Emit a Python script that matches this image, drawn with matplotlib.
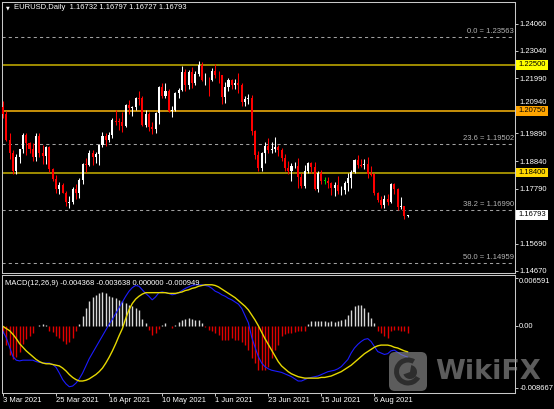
import matplotlib.pyplot as plt
import matplotlib.patches as patches
from matplotlib.transforms import blended_transform_factory, ScaledTranslation
import numpy as np

plt.rcParams['font.family'] = ['Liberation Sans', 'DejaVu Sans']

# EURUSD daily bars, 3 Mar 2021 .. 20 Aug 2021
opens = [1.2090, 1.2064, 1.1966, 1.1915, 1.1847, 1.1900, 1.1929, 1.1985, 1.1952, 1.1930,
         1.1901, 1.1978, 1.1915, 1.1903, 1.1938, 1.1853, 1.1814, 1.1777, 1.1794, 1.1763,
         1.1727, 1.1730, 1.1778, 1.1763, 1.1813, 1.1874, 1.1870, 1.1915, 1.1900, 1.1912,
         1.1946, 1.1979, 1.1966, 1.1983, 1.2039, 1.2036, 1.2034, 1.2016, 1.2096, 1.2085,
         1.2090, 1.2125, 1.2123, 1.2020, 1.2063, 1.2014, 1.2006, 1.2066, 1.2165, 1.2130,
         1.2150, 1.2075, 1.2080, 1.2143, 1.2153, 1.2225, 1.2173, 1.2225, 1.2180, 1.2214,
         1.2249, 1.2193, 1.2195, 1.2193, 1.2227, 1.2213, 1.2212, 1.2127, 1.2165, 1.2191,
         1.2172, 1.2180, 1.2175, 1.2107, 1.2122, 1.2125, 1.1997, 1.1907, 1.1859, 1.1916,
         1.1940, 1.1925, 1.1931, 1.1936, 1.1925, 1.1895, 1.1857, 1.1848, 1.1865, 1.1866,
         1.1823, 1.1790, 1.1845, 1.1875, 1.1862, 1.1776, 1.1837, 1.1810, 1.1810, 1.1802,
         1.1780, 1.1794, 1.1770, 1.1772, 1.1801, 1.1818, 1.1843, 1.1888, 1.1870, 1.1868,
         1.1872, 1.1836, 1.1834, 1.1761, 1.1736, 1.1718, 1.1740, 1.1730, 1.1796, 1.1778,
         1.1711, 1.1712, 1.16732]
highs = [1.2113, 1.2074, 1.1990, 1.1928, 1.1912, 1.1930, 1.1990, 1.1989, 1.1958, 1.1952,
         1.1989, 1.1990, 1.1945, 1.1942, 1.1943, 1.1857, 1.1832, 1.1805, 1.1800, 1.1770,
         1.1750, 1.1784, 1.1796, 1.1820, 1.1878, 1.1895, 1.1928, 1.1925, 1.1918, 1.1948,
         1.1994, 1.1990, 1.1995, 1.2048, 1.2080, 1.2048, 1.2070, 1.2100, 1.2117, 1.2095,
         1.2128, 1.2150, 1.2130, 1.2077, 1.2070, 1.2033, 1.2070, 1.2168, 1.2181, 1.2183,
         1.2160, 1.2095, 1.2146, 1.2161, 1.2245, 1.2235, 1.2229, 1.2244, 1.2227, 1.2266,
         1.2262, 1.2220, 1.2203, 1.2240, 1.2254, 1.2226, 1.2212, 1.2185, 1.2200, 1.2195,
         1.2195, 1.2218, 1.2180, 1.2130, 1.2140, 1.2137, 1.2003, 1.1922, 1.1920, 1.1955,
         1.1970, 1.1957, 1.1975, 1.1945, 1.1932, 1.1912, 1.1885, 1.1876, 1.1881, 1.1895,
         1.1840, 1.1868, 1.1880, 1.1880, 1.1880, 1.1848, 1.1851, 1.1822, 1.1822, 1.1805,
         1.1806, 1.1828, 1.1790, 1.1810, 1.1840, 1.1850, 1.1893, 1.1909, 1.1893, 1.1892,
         1.1900, 1.1865, 1.1840, 1.1765, 1.1750, 1.1753, 1.1757, 1.1802, 1.1801, 1.1783,
         1.1749, 1.1713, 1.16797]
lows = [1.2048, 1.1962, 1.1893, 1.1836, 1.1835, 1.1875, 1.1916, 1.1909, 1.1913, 1.1885,
        1.1883, 1.1900, 1.1874, 1.1874, 1.1842, 1.1808, 1.1762, 1.1760, 1.1761, 1.1712,
        1.1704, 1.1720, 1.1739, 1.1744, 1.1795, 1.1841, 1.1865, 1.1870, 1.1876, 1.1870,
        1.1939, 1.1942, 1.1955, 1.1973, 1.2020, 1.2002, 1.1995, 1.2012, 1.2065, 1.2057,
        1.2080, 1.2096, 1.2016, 1.2012, 1.1999, 1.1986, 1.1990, 1.2026, 1.2123, 1.2125,
        1.2072, 1.2052, 1.2076, 1.2123, 1.2150, 1.2150, 1.2160, 1.2161, 1.2175, 1.2208,
        1.2188, 1.2175, 1.2133, 1.2190, 1.2200, 1.2182, 1.2103, 1.2105, 1.2150, 1.2160,
        1.2159, 1.2144, 1.2093, 1.2093, 1.2101, 1.1985, 1.1893, 1.1847, 1.1848, 1.1875,
        1.1914, 1.1915, 1.1920, 1.1902, 1.1885, 1.1845, 1.1836, 1.1807, 1.1856, 1.1782,
        1.1781, 1.1782, 1.1838, 1.1838, 1.1772, 1.1767, 1.1795, 1.1797, 1.1780, 1.1753,
        1.1752, 1.1758, 1.1755, 1.1760, 1.1770, 1.1780, 1.1840, 1.1857, 1.1862, 1.1855,
        1.1820, 1.1826, 1.1756, 1.1727, 1.1706, 1.1705, 1.1717, 1.1724, 1.1759, 1.1697,
        1.1701, 1.1664, 1.16727]
closes = [1.2064, 1.1966, 1.1915, 1.1847, 1.1900, 1.1929, 1.1985, 1.1952, 1.1930, 1.1901,
          1.1978, 1.1915, 1.1903, 1.1938, 1.1853, 1.1814, 1.1777, 1.1794, 1.1763, 1.1727,
          1.1730, 1.1778, 1.1763, 1.1813, 1.1874, 1.1870, 1.1915, 1.1900, 1.1912, 1.1946,
          1.1979, 1.1966, 1.1983, 1.2039, 1.2036, 1.2034, 1.2016, 1.2096, 1.2085, 1.2090,
          1.2125, 1.2123, 1.2020, 1.2063, 1.2014, 1.2006, 1.2066, 1.2165, 1.2130, 1.2150,
          1.2075, 1.2080, 1.2143, 1.2153, 1.2225, 1.2173, 1.2225, 1.2180, 1.2214, 1.2249,
          1.2193, 1.2195, 1.2193, 1.2227, 1.2213, 1.2212, 1.2127, 1.2165, 1.2191, 1.2172,
          1.2180, 1.2175, 1.2107, 1.2122, 1.2125, 1.1997, 1.1907, 1.1859, 1.1916, 1.1940,
          1.1925, 1.1931, 1.1936, 1.1925, 1.1895, 1.1857, 1.1848, 1.1865, 1.1866, 1.1823,
          1.1790, 1.1845, 1.1875, 1.1862, 1.1776, 1.1837, 1.1810, 1.1810, 1.1802, 1.1780,
          1.1794, 1.1770, 1.1772, 1.1801, 1.1818, 1.1843, 1.1888, 1.1870, 1.1868, 1.1872,
          1.1836, 1.1834, 1.1761, 1.1736, 1.1718, 1.1740, 1.1730, 1.1796, 1.1778, 1.1711,
          1.1712, 1.1673, 1.16793]

# MACD(12,26,9)
macd_main = [-0.0008, -0.0017, -0.0030, -0.0043, -0.0048, -0.0049, -0.0048, -0.0048, -0.0048, -0.0048,
             -0.0050, -0.0051, -0.0052, -0.0052, -0.0052, -0.0054, -0.0058, -0.0066, -0.0075, -0.0081,
             -0.0085, -0.0084, -0.0080, -0.0074, -0.0066, -0.0056, -0.0046, -0.0038, -0.0030, -0.0022,
             -0.0014, -0.0006, 0.0002, 0.0009, 0.0017, 0.0025, 0.0033, 0.0041, 0.0048, 0.0053,
             0.0056, 0.0055, 0.0050, 0.0045, 0.0041, 0.0036, 0.0040, 0.0046, 0.0047, 0.0046,
             0.0045, 0.0043, 0.0044, 0.0046, 0.0049, 0.0052, 0.0054, 0.0056, 0.0057, 0.0057,
             0.0057, 0.0056, 0.0055, 0.0052, 0.0048, 0.0046, 0.0043, 0.0041, 0.0038, 0.0036,
             0.0033, 0.0030, 0.0024, 0.0014, 0.0004, -0.0016, -0.0030, -0.0043, -0.0052, -0.0057,
             -0.0060, -0.0062, -0.0063, -0.0064, -0.0065, -0.0067, -0.0069, -0.0071, -0.0074, -0.0077,
             -0.0077, -0.0075, -0.0073, -0.0072, -0.0071, -0.0070, -0.0068, -0.0066, -0.0064, -0.0063,
             -0.0062, -0.0060, -0.0057, -0.0052, -0.0047, -0.0038, -0.0031, -0.0026, -0.0022, -0.0019,
             -0.0018, -0.0022, -0.0029, -0.0036, -0.0038, -0.0040, -0.0039, -0.0035, -0.0034, -0.0037,
             -0.0040, -0.0042, -0.004368]
macd_signal = [-0.0001, -0.0004, -0.0007, -0.0012, -0.0018, -0.0025, -0.0030, -0.0035, -0.0039, -0.0043,
               -0.0047, -0.0050, -0.0052, -0.0053, -0.0053, -0.0054, -0.0055, -0.0056, -0.0059, -0.0063,
               -0.0068, -0.0072, -0.0075, -0.0077, -0.0077, -0.0076, -0.0074, -0.0071, -0.0068, -0.0064,
               -0.0059, -0.0052, -0.0044, -0.0035, -0.0025, -0.0014, -0.0004, 0.0010, 0.0022, 0.0031,
               0.0037, 0.0041, 0.0044, 0.0046, 0.0046, 0.0046, 0.0046, 0.0046, 0.0046, 0.0046,
               0.0045, 0.0045, 0.0045, 0.0046, 0.0047, 0.0049, 0.0050, 0.0052, 0.0053, 0.0055,
               0.0056, 0.0057, 0.0057, 0.0057, 0.0056, 0.0054, 0.0051, 0.0048, 0.0045, 0.0042,
               0.0039, 0.0035, 0.0031, 0.0027, 0.0022, 0.0015, 0.0008, 0.0000, -0.0009, -0.0018,
               -0.0026, -0.0034, -0.0042, -0.0050, -0.0056, -0.0060, -0.0064, -0.0067, -0.0069, -0.0071,
               -0.0072, -0.0073, -0.0073, -0.0073, -0.0073, -0.0073, -0.0072, -0.0072, -0.0071, -0.0070,
               -0.0068, -0.0066, -0.0064, -0.0061, -0.0058, -0.0055, -0.0051, -0.0047, -0.0043, -0.0039,
               -0.0036, -0.0033, -0.0030, -0.0028, -0.0027, -0.0027, -0.0027, -0.0028, -0.0030, -0.0031,
               -0.0033, -0.0035, -0.003638]
macd_hist = [-0.0010, -0.0027, -0.0041, -0.0047, -0.0044, -0.0036, -0.0025, -0.0019, -0.0015, -0.0010,
             -0.0001, 0.0001, 0.0002, 0.0001, -0.0007, -0.0009, -0.0014, -0.0017, -0.0021, -0.0025,
             -0.0023, -0.0017, -0.0008, 0.0002, 0.0013, 0.0025, 0.0034, 0.0040, 0.0043, 0.0046,
             0.0047, 0.0045, 0.0042, 0.0040, 0.0039, 0.0036, 0.0034, 0.0032, 0.0029, 0.0027,
             0.0025, 0.0022, 0.0009, 0.0004, -0.0006, -0.0013, -0.0010, -0.0005, 0.0001, 0.0004,
             -0.0001, -0.0003, 0.0001, 0.0005, 0.0008, 0.0009, 0.0011, 0.0009, 0.0008, 0.0008,
             0.0004, -0.0002, -0.0006, -0.0008, -0.0010, -0.0013, -0.0020, -0.0020, -0.0020, -0.0017,
             -0.0020, -0.0020, -0.0022, -0.0027, -0.0034, -0.0045, -0.0052, -0.0062, -0.0062, -0.0062,
             -0.0057, -0.0045, -0.0034, -0.0027, -0.0015, -0.0011, -0.0010, -0.0010, -0.0009, -0.0008,
             -0.0008, -0.0007, 0.0003, 0.0006, 0.0007, 0.0006, 0.0006, 0.0006, 0.0005, 0.0006,
             0.0005, 0.0006, 0.0008, 0.0009, 0.0015, 0.0022, 0.0027, 0.0029, 0.0029, 0.0025,
             0.0019, 0.0011, 0.0004, -0.0008, -0.0010, -0.0015, -0.0017, -0.0008, -0.0006, -0.0006,
             -0.0008, -0.0008, -0.00095]

time_idx = [0, 16, 32, 48, 64, 80, 96, 112]
time_labels = ['3 Mar 2021', '25 Mar 2021', '16 Apr 2021', '10 May 2021',
               '1 Jun 2021', '23 Jun 2021', '15 Jul 2021', '6 Aug 2021']
# 1.16740 sits under the current-price box in the reference, so it is left out
price_ticks = [1.24060, 1.23040, 1.21990, 1.20940, 1.19890, 1.18840, 1.17790, 1.15690, 1.14670]
fib_levels = [1.23563, 1.19502, 1.16990, 1.14959]
fib_names = ['0.0', '23.6', '38.2', '50.0']
hlines = [1.22500, 1.20750, 1.18400]
hline_colors = ['#a08c00', '#c8900a', '#a08c00']
hline_box = ['#ffff00', '#ffa500', '#ffd700']
last_price = 1.16793
macd_ticks = [0.006591, 0.0, -0.008667]
macd_tick_labels = ['0.006591', '0.00', '-0.008667']

FS = 5.5
GRID = '#c8c8c8'

fig = plt.figure(figsize=(5.54, 4.09), dpi=100, facecolor='black')
ax = fig.add_axes([2/554, 1-273/409, 513/554, 271/409], facecolor='black')
ax2 = fig.add_axes([2/554, 1-393/409, 513/554, 118/409], facecolor='black')

o = np.array(opens); h = np.array(highs); l = np.array(lows); c = np.array(closes)
x = np.arange(len(c))
cols = np.where(c > o, '#ffffff', np.where(c < o, '#ff0000', '#00d000'))

# fib + support/resistance lines under candles
for lev in fib_levels:
    ax.axhline(lev, color='#a0a0a0', lw=0.75, ls=(0, (3, 3)), zorder=1)
tr = blended_transform_factory(ax.transAxes, ax.transData)
for lev, name in zip(fib_levels, fib_names):
    ax.text(0.998, lev + 0.0006, f'{name} = {lev:.5f}', transform=tr, ha='right', va='bottom',
            color='#b4b4b4', fontsize=FS)
for lev, col in zip(hlines, hline_colors):
    ax.axhline(lev, color=col, lw=1.4, zorder=1)

# candles
ax.vlines(x, l, h, colors=cols, lw=0.75, zorder=3)
body = c - o
hgt = np.where(np.abs(body) < 0.0003, 0.0003, np.abs(body))
bot = np.where(np.abs(body) < 0.0003, np.minimum(o, c) - 0.00015, np.minimum(o, c))
ax.bar(x, hgt, bottom=bot, width=0.62, color=cols, lw=0, zorder=4)

ax.set_xlim(-0.3, 154.4)
ax.set_ylim(1.14579, 1.24896)
ax.set_xticks([])
ax.yaxis.tick_right()
ax.set_yticks(price_ticks)
ax.set_yticklabels([f'{t:.5f}' for t in price_ticks])
ax.tick_params(axis='y', colors=GRID, labelcolor='white', length=2, width=0.7, pad=1, labelsize=FS)
# nudge 1.20940 up so it clears the 1.20750 box
lbl = ax.get_yticklabels()[3]
lbl.set_transform(lbl.get_transform() + ScaledTranslation(0, 0.045, fig.dpi_scale_trans))

# price boxes on the right scale
for lev, fc in zip(hlines + [last_price], hline_box + ['#ffffff']):
    ax.add_patch(patches.Rectangle((1.002, lev - 0.0018), 0.062, 0.0036, transform=tr,
                                   facecolor=fc, edgecolor='none', clip_on=False, zorder=10))
    ax.text(1.033, lev, f'{lev:.5f}', transform=tr, ha='center', va='center', color='black',
            fontsize=FS, clip_on=False, zorder=11)

ax.text(0.0075, 0.978, '\u25bc', transform=ax.transAxes, color='white', fontsize=3.5,
        va='center', family='DejaVu Sans')
ax.text(0.0234, 0.978, 'EURUSD,Daily  1.16732 1.16797 1.16727 1.16793', transform=ax.transAxes,
        color='white', fontsize=FS, va='center')

# MACD pane
hcols = np.where(np.array(macd_hist) >= 0, '#d8d8d8', '#e00000')
ax2.vlines(x, 0, macd_hist, colors=hcols, lw=1.0)
ax2.plot(x, macd_main, color='#1c1cff', lw=0.8)
ax2.plot(x, macd_signal, color='#e6d800', lw=1.0)
ax2.set_xlim(-0.3, 154.4)
ax2.set_ylim(-0.00937, 0.00706)
ax2.yaxis.tick_right()
ax2.set_yticks(macd_ticks)
ax2.set_yticklabels(macd_tick_labels)
ax2.set_xticks(time_idx)
ax2.set_xticklabels(time_labels)
for t in ax2.get_xticklabels():
    t.set_horizontalalignment('left')
ax2.tick_params(colors=GRID, labelcolor='white', length=2, width=0.7, pad=1, labelsize=FS)
top_lbl = ax2.get_yticklabels()[0]
top_lbl.set_transform(top_lbl.get_transform() + ScaledTranslation(0, -0.025, fig.dpi_scale_trans))
ax2.text(0.006, 0.955, 'MACD(12,26,9) -0.004368 -0.003638 0.000000 -0.000949', transform=ax2.transAxes,
         color='white', fontsize=FS, va='top')

for a in (ax, ax2):
    for s in a.spines.values():
        s.set_color(GRID)
        s.set_linewidth(0.75)

# WikiFX watermark
fig.patches.append(patches.FancyBboxPatch((3.89, 0.18), 0.38, 0.39, boxstyle='round,pad=0,rounding_size=0.06',
                                          transform=fig.dpi_scale_trans, facecolor='#9a9a9a', alpha=0.6,
                                          edgecolor='none', zorder=20))
fig.patches.append(patches.Wedge((4.08, 0.375), 0.14, 60, 330, width=0.05, transform=fig.dpi_scale_trans,
                                 facecolor='#222222', alpha=0.8, zorder=21))
fig.patches.append(patches.Wedge((4.10, 0.37), 0.07, 200, 80, transform=fig.dpi_scale_trans,
                                 facecolor='#222222', alpha=0.8, zorder=21))
fig.text(435/554, 30/409, 'WikiFX', color='#9a9a9a', alpha=0.6, fontsize=19.5, fontweight='bold',
         family='DejaVu Sans', ha='left', va='baseline', zorder=22)

plt.savefig('out.png', dpi=100, facecolor='black')
plt.close()
